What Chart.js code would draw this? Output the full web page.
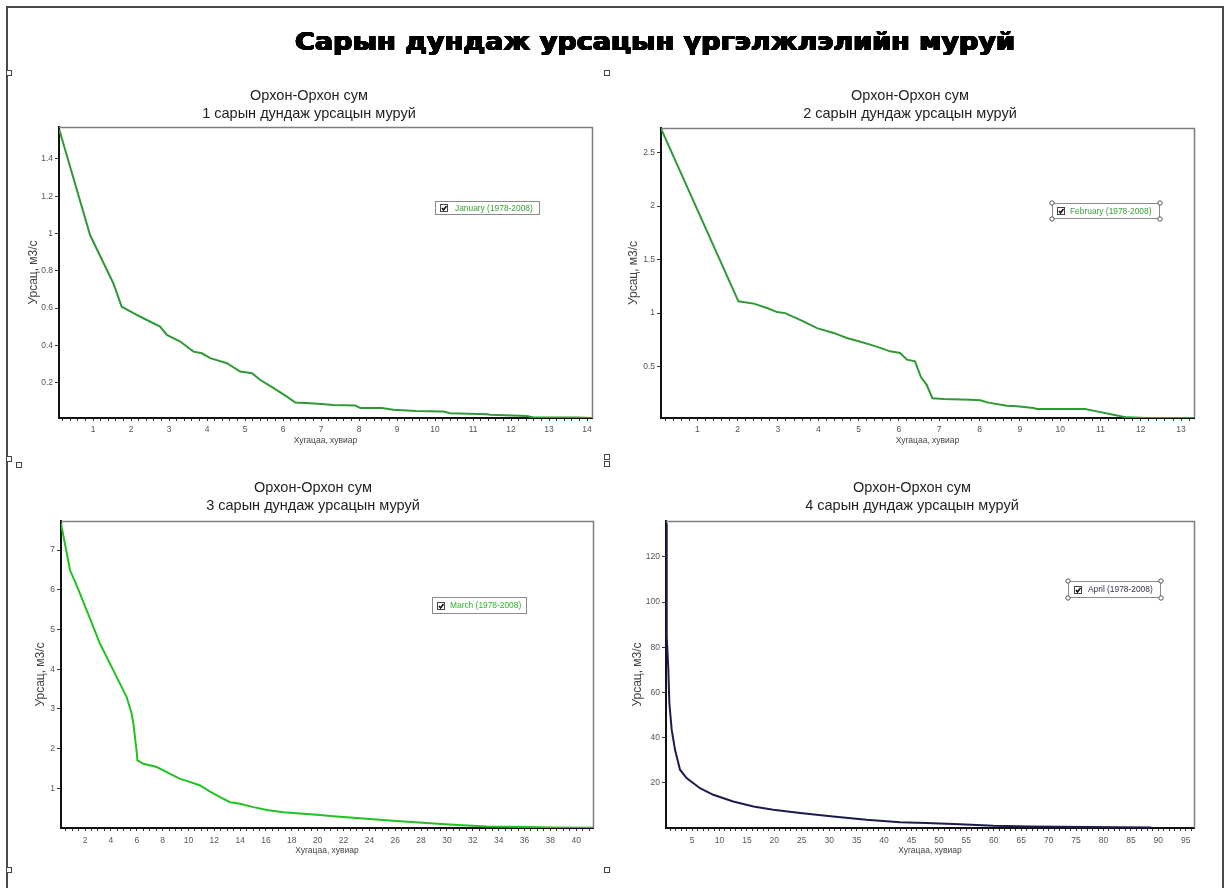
<!DOCTYPE html>
<html lang="mn">
<head>
<meta charset="utf-8">
<title>Сарын дундаж урсацын үргэлжлэлийн муруй</title>
<script src="https://cdn.jsdelivr.net/npm/chart.js@4.4.1/dist/chart.umd.min.js"></script>
<style>
  html, body { margin: 0; padding: 0; background: #fff; }
  #page { position: relative; width: 1228px; height: 888px; overflow: hidden; background: #fff; }
  #frame { position: absolute; left: 6px; top: 6px; width: 1218px; height: 900px; border: 2px solid #4a4a4a; box-sizing: border-box; }
  canvas { position: absolute; }
  .handle { position: absolute; width: 4px; height: 4px; border: 1px solid #444; background: #fff; }
</style>
</head>
<body>
<div id="page">
  <div id="frame"></div>
  <canvas id="heading" width="1228" height="70" style="left:0;top:0" aria-label="Сарын дундаж урсацын үргэлжлэлийн муруй"></canvas>

  <canvas id="c1" width="600" height="389" style="left:9px;top:73px"></canvas>
  <canvas id="c2" width="604" height="389" style="left:609px;top:73px"></canvas>
  <canvas id="c3" width="600" height="408" style="left:9px;top:462px"></canvas>
  <canvas id="c4" width="604" height="408" style="left:609px;top:462px"></canvas>

  <div class="handle" style="left:6px;top:70px"></div>
  <div class="handle" style="left:604px;top:70px"></div>
  <div class="handle" style="left:6px;top:456px"></div>
  <div class="handle" style="left:16px;top:462px"></div>
  <div class="handle" style="left:604px;top:454px"></div>
  <div class="handle" style="left:604px;top:461px"></div>
  <div class="handle" style="left:6px;top:867px"></div>
  <div class="handle" style="left:604px;top:867px"></div>
</div>

<script>
// ---- Flow duration data (x: time share, %; y: discharge, m3/s) ----
const janPct  = [0.11, 0.92, 1.53, 1.75, 2.06, 2.32, 2.76, 2.94, 3.29, 3.64, 3.86, 4.08, 4.52, 4.87, 5.18, 5.39, 5.75, 6.10, 6.32, 6.71, 7.00, 7.32, 7.90, 8.03, 8.60, 8.90, 9.50, 10.22, 10.39, 11.36, 11.45, 12.41, 12.59, 13.73, 14.13];
const janFlow = [1.555, 0.99, 0.733, 0.607, 0.572, 0.545, 0.50, 0.456, 0.42, 0.366, 0.357, 0.331, 0.304, 0.259, 0.25, 0.215, 0.17, 0.125, 0.093, 0.089, 0.085, 0.08, 0.077, 0.063, 0.063, 0.054, 0.048, 0.045, 0.036, 0.03, 0.027, 0.021, 0.013, 0.013, 0.01];

const febPct  = [0.107, 2.02, 2.40, 2.73, 2.98, 3.18, 3.63, 3.97, 4.38, 4.71, 5.00, 5.29, 5.54, 5.78, 6.03, 6.20, 6.40, 6.55, 6.69, 6.83, 7.11, 7.77, 8.02, 8.19, 8.68, 8.93, 9.34, 9.42, 10.62, 10.91, 11.32, 11.65, 12.15, 13.32];
const febFlow = [2.72, 1.11, 1.089, 1.048, 1.01, 1.0, 0.923, 0.86, 0.815, 0.768, 0.737, 0.706, 0.675, 0.643, 0.628, 0.565, 0.55, 0.40, 0.33, 0.205, 0.198, 0.19, 0.185, 0.166, 0.135, 0.129, 0.114, 0.105, 0.105, 0.082, 0.051, 0.026, 0.02, 0.02];

const marPct  = [0.14, 0.84, 1.35, 2.13, 3.16, 4.19, 5.22, 5.61, 5.74, 6.00, 6.05, 6.51, 7.55, 8.32, 9.35, 9.87, 10.9, 11.67, 12.45, 13.22, 13.99, 15.02, 16.06, 17.35, 18.64, 20.18, 21.2, 23.8, 26.1, 28.4, 30.5, 33.1, 36.2, 38.1, 41.3];
const marFlow = [7.67, 6.49, 6.11, 5.48, 4.64, 3.97, 3.3, 2.88, 2.63, 1.91, 1.705, 1.62, 1.54, 1.41, 1.24, 1.19, 1.075, 0.92, 0.78, 0.655, 0.614, 0.53, 0.46, 0.40, 0.37, 0.33, 0.30, 0.24, 0.18, 0.13, 0.085, 0.043, 0.03, 0.02, 0.01];

const aprPct  = [0.25, 0.38, 0.68, 0.86, 1.29, 1.9, 2.8, 4.0, 6.45, 8.87, 12.5, 16.2, 19.8, 24.7, 30.7, 36.8, 42.9, 47.7, 53.8, 59.9, 66.6, 76.9, 88.7];
const aprFlow = [134.9, 84.7, 70, 55.2, 43.4, 34.6, 25.8, 22.1, 17.6, 14.7, 11.7, 9.5, 8.05, 6.6, 5.1, 3.6, 2.6, 2.2, 1.7, 1.0, 0.7, 0.4, 0.2];

// ---- Axis tick labels ----
const janYTicks = [0.2, 0.4, 0.6, 0.8, 1, 1.2, 1.4];
const janXTicks = [1, 2, 3, 4, 5, 6, 7, 8, 9, 10, 11, 12, 13, 14];
const febYTicks = [0.5, 1, 1.5, 2, 2.5];
const febXTicks = [1, 2, 3, 4, 5, 6, 7, 8, 9, 10, 11, 12, 13];
const marYTicks = [1, 2, 3, 4, 5, 6, 7];
const marXTicks = [2, 4, 6, 8, 10, 12, 14, 16, 18, 20, 22, 24, 26, 28, 30, 32, 34, 36, 38, 40];
const aprYTicks = [20, 40, 60, 80, 100, 120];
const aprXTicks = [5, 10, 15, 20, 25, 30, 35, 40, 45, 50, 55, 60, 65, 70, 75, 80, 85, 90, 95];

// ---- Texts ----
const pageTitle = 'Сарын дундаж урсацын үргэлжлэлийн муруй';
const stationName = 'Орхон-Орхон сум';
const subtitles = ['1 сарын дундаж урсацын муруй', '2 сарын дундаж урсацын муруй', '3 сарын дундаж урсацын муруй', '4 сарын дундаж урсацын муруй'];
const seriesNames = ['January (1978-2008)', 'February (1978-2008)', 'March (1978-2008)', 'April (1978-2008)'];
const yAxisTitle = 'Урсац, м3/с';
const xAxisTitle = 'Хугацаа, хувиар';

const FONT = '"Liberation Sans", Arial, sans-serif';

// Heavy page heading, stretched to its printed width; the glyphs are
// thickened by overprinting a few slightly shifted copies
(function () {
  const cv = document.getElementById('heading');
  const ctx = cv.getContext('2d');
  ctx.font = 'bold 24px "DejaVu Sans", sans-serif';
  const w = ctx.measureText(pageTitle).width;
  const target = 720;
  ctx.save();
  ctx.translate(655, 50);
  ctx.scale(target / w, 1);
  ctx.textAlign = 'center';
  ctx.textBaseline = 'alphabetic';
  ctx.fillStyle = '#000';
  const offs = [-0.6, 0, 0.6];
  offs.forEach(dx => offs.forEach(dy => ctx.fillText(pageTitle, dx, dy * 0.7)));
  ctx.restore();
})();

function minorTicks(min, max, step) {
  const out = [];
  const k0 = Math.ceil(min / step - 1e-9), k1 = Math.floor(max / step + 1e-9);
  for (let k = k0; k <= k1; k++) out.push(Math.round(k * step * 1000) / 1000);
  return out;
}

// Thin grey top and right edges of the plot box
const plotFrame = {
  id: 'plotFrame',
  beforeDatasetsDraw(chart) {
    const { ctx, chartArea: a } = chart;
    ctx.save();
    ctx.strokeStyle = '#7d7d7d';
    ctx.lineWidth = 1.5;
    ctx.beginPath();
    ctx.moveTo(a.left, a.top + 0.5);
    ctx.lineTo(a.right + 0.5, a.top + 0.5);
    ctx.lineTo(a.right + 0.5, a.bottom);
    ctx.stroke();
    ctx.restore();
  }
};

// Boxed series key with a ticked checkbox
const seriesBox = {
  id: 'seriesBox',
  afterDatasetsDraw(chart, args, o) {
    const { ctx, chartArea } = chart;
    const ds = chart.data.datasets[0];
    const x = Math.round(chartArea.left + o.dx), y = Math.round(chartArea.top + o.dy);
    ctx.save();
    ctx.fillStyle = '#fff';
    ctx.fillRect(x, y, o.w, o.h);
    ctx.strokeStyle = '#8a8a8a';
    ctx.lineWidth = 1;
    ctx.strokeRect(x + 0.5, y + 0.5, o.w, o.h);
    const cb = 7, cx = x + o.cbx, cy = Math.round(y + (o.h - cb) / 2);
    ctx.strokeStyle = '#444';
    ctx.strokeRect(cx + 0.5, cy + 0.5, cb, cb);
    ctx.beginPath();
    ctx.moveTo(cx + 2, cy + 4);
    ctx.lineTo(cx + 3.5, cy + 6);
    ctx.lineTo(cx + 6.5, cy + 2);
    ctx.lineWidth = 1.6;
    ctx.strokeStyle = '#111';
    ctx.stroke();
    ctx.fillStyle = o.textColor;
    ctx.font = '8.4px ' + FONT;
    ctx.textBaseline = 'middle';
    ctx.fillText(ds.label, x + o.tx, y + o.h / 2 + 1);
    if (o.handles) {
      ctx.lineWidth = 1;
      ctx.strokeStyle = '#555';
      ctx.fillStyle = '#fff';
      [[x, y], [x + o.w + 1, y], [x, y + o.h + 1], [x + o.w + 1, y + o.h + 1]].forEach(([hx, hy]) => {
        ctx.beginPath();
        ctx.arc(hx, hy, 2.2, 0, Math.PI * 2);
        ctx.fill();
        ctx.stroke();
      });
    }
    ctx.restore();
  }
};

function makeChart(id, p) {
  const majors = new Set(p.xTicks);
  const minors = minorTicks(p.xMin, p.xMax, p.minorStep);
  return new Chart(document.getElementById(id), {
    type: 'line',
    data: {
      datasets: [{
        label: p.label,
        data: p.xs.map((x, i) => ({ x: x, y: p.ys[i] })),
        borderColor: p.color,
        borderWidth: 2,
        pointRadius: 0,
        pointHoverRadius: 0,
        tension: 0,
        fill: false
      }]
    },
    options: {
      responsive: false,
      animation: false,
      events: [],
      layout: { padding: { left: p.padL, right: p.padR, top: 0, bottom: 0 } },
      plugins: {
        legend: { display: false },
        tooltip: { enabled: false },
        title: {
          display: true,
          text: [stationName, p.subtitle],
          color: '#1e1e1e',
          font: { family: FONT, size: 14.5, weight: 'normal', lineHeight: 18 / 14.5 },
          padding: { top: p.titleTop, bottom: p.titleBottom }
        },
        seriesBox: p.box
      },
      scales: {
        x: {
          type: 'linear',
          min: p.xMin,
          max: p.xMax,
          afterBuildTicks: s => { s.ticks = minors.map(v => ({ value: v })); },
          afterFit: s => { s.height = p.xH; },
          ticks: {
            autoSkip: false, maxRotation: 0, minRotation: 0,
            padding: p.xTickPad,
            color: '#555',
            font: { family: FONT, size: 8.5 },
            callback: v => (majors.has(v) ? String(v) : '')
          },
          grid: { drawOnChartArea: false, drawTicks: true, tickLength: 3, color: '#333', lineWidth: 1 },
          border: { display: true, color: '#111', width: 2 },
          title: {
            display: true, text: xAxisTitle, color: '#444',
            font: { family: FONT, size: 8.5 },
            padding: { top: 0, bottom: p.xTitlePad }
          }
        },
        y: {
          type: 'linear',
          min: p.yMin,
          max: p.yMax,
          afterBuildTicks: s => { s.ticks = p.yTicks.map(v => ({ value: v })); },
          afterFit: s => { s.width = p.yW; },
          ticks: {
            padding: 2,
            color: '#555',
            font: { family: FONT, size: 8.5 },
            callback: v => String(v)
          },
          grid: { drawOnChartArea: false, drawTicks: true, tickLength: 4, color: '#333', lineWidth: 1 },
          border: { display: true, color: '#111', width: 2 },
          title: {
            display: true, text: yAxisTitle, color: '#444',
            font: { family: FONT, size: 12 },
            padding: { top: p.yTitlePad, bottom: 0 }
          }
        }
      }
    },
    plugins: [plotFrame, seriesBox]
  });
}

makeChart('c1', {
  xs: janPct, ys: janFlow, label: seriesNames[0], subtitle: subtitles[0], color: '#2f9a35',
  xMin: 0.1, xMax: 14.13, yMin: 0.01, yMax: 1.571, xTicks: janXTicks, yTicks: janYTicks, minorStep: 0.2,
  padL: 17, padR: 17, yW: 33, xH: 44, titleTop: 14, titleBottom: 4, xTickPad: 4, xTitlePad: 16, yTitlePad: 0,
  box: { dx: 376, dy: 74, w: 104, h: 13, cbx: 5, tx: 20, textColor: '#3a9e3a', handles: false }
});

makeChart('c2', {
  xs: febPct, ys: febFlow, label: seriesNames[1], subtitle: subtitles[1], color: '#2f9a35',
  xMin: 0.1, xMax: 13.32, yMin: 0.02, yMax: 2.73, xTicks: febXTicks, yTicks: febYTicks, minorStep: 0.2,
  padL: 17, padR: 19, yW: 35, xH: 44, titleTop: 14, titleBottom: 5, xTickPad: 4, xTitlePad: 16, yTitlePad: 0,
  box: { dx: 391, dy: 75, w: 107, h: 15, cbx: 5, tx: 18, textColor: '#3a9e3a', handles: true }
});

makeChart('c3', {
  xs: marPct, ys: marFlow, label: seriesNames[2], subtitle: subtitles[2], color: '#22c022',
  xMin: 0.14, xMax: 41.3, yMin: 0.005, yMax: 7.73, xTicks: marXTicks, yTicks: marYTicks, minorStep: 0.5,
  padL: 24, padR: 16, yW: 28, xH: 42, titleTop: 17, titleBottom: 6, xTickPad: 5, xTitlePad: 14, yTitlePad: 0.8,
  box: { dx: 371, dy: 76, w: 94, h: 16, cbx: 5, tx: 18, textColor: '#2cb52c', handles: false }
});

makeChart('c4', {
  xs: aprPct, ys: aprFlow, label: seriesNames[3], subtitle: subtitles[3], color: '#1b1b4f',
  xMin: 0.25, xMax: 96.5, yMin: 0, yMax: 135.9, xTicks: aprXTicks, yTicks: aprYTicks, minorStep: 1,
  padL: 21, padR: 19, yW: 36, xH: 42, titleTop: 17, titleBottom: 6, xTickPad: 5, xTitlePad: 14, yTitlePad: 0.8,
  box: { dx: 402, dy: 60, w: 92, h: 16, cbx: 6, tx: 20, textColor: '#333355', handles: true }
});
</script>
</body>
</html>
